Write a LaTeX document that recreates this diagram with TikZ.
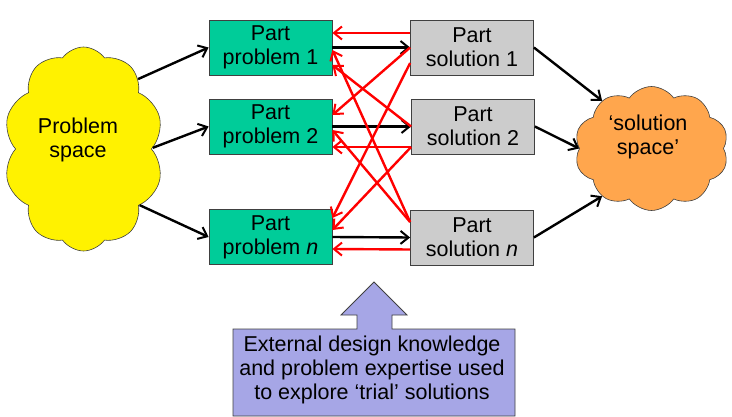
\documentclass[tikz,border=0pt]{standalone}
\usepackage{fontspec}
\setmainfont{Liberation Sans}
\usetikzlibrary{arrows.meta,shapes.symbols}

\definecolor{partgreen}{HTML}{00CC99}
\definecolor{partgrey}{HTML}{CCCCCC}
\definecolor{spaceorange}{HTML}{FFA64D}
\definecolor{knowblue}{HTML}{A6A6E6}
\definecolor{edgegrey}{HTML}{404040}

\begin{document}
\begin{tikzpicture}[x=1pt,y=-1pt,
    font=\fontsize{21.5}{24}\selectfont,
    partbox/.style={draw=edgegrey, line width=0.8pt, minimum width=123pt,
        minimum height=55pt, align=center, inner sep=0pt},
    problembox/.style={partbox, fill=partgreen},
    solutionbox/.style={partbox, fill=partgrey},
    spacecloud/.style={cloud, cloud puffs=10, cloud puff arc=110, cloud ignores aspect,
        draw=edgegrey, line width=0.6pt, inner sep=0pt},
    fwd/.style={line width=2.4pt, -{Straight Barb[length=8pt,width=13pt,line width=2pt]}},
    back/.style={fwd, red}]

\useasboundingbox (0,0) rectangle (732,417);

% clouds
\node [spacecloud, fill=yellow, minimum width=160pt, minimum height=204pt]
    (problem) at (83.5,149) {};
\node [align=center] (problemtext) at (78,140) {Problem\\space};
\node [spacecloud, fill=spaceorange, minimum width=154pt, minimum height=124pt]
    (solution) at (651.5,148.5) {};
\node [align=center] (solutiontext) at (648,137) {`solution\\space'};

% part problems and part solutions
\node [problembox] (pp1) at (270.5,47.5) {Part\\problem 1};
\node [problembox] (pp2) at (270.5,126.5) {Part\\problem 2};
\node [problembox] (ppn) at (270.5,237) {Part\\problem \textit{n}};

\node [solutionbox] (ps1) at (472,47.5) {Part\\solution 1};
\node [solutionbox] (ps2) at (473,126.5) {Part\\solution 2};
\node [solutionbox] (psn) at (472,237.5) {Part\\solution \textit{n}};

% problem space to part problems
\draw [fwd] (problem.52) -- (pp1.west);
\draw [fwd] (problem.1) -- (pp2.west);
\draw [fwd] (problem.-45) -- (ppn.west);

% part problems to part solutions
\foreach \i in {1,2,n}
    \draw [fwd] (pp\i.east) -- (ps\i.west);

% part solutions to solution space
\draw [fwd] (ps1.east) -- (solution.136);
\draw [fwd] (ps2.east) -- (solution.180);
\draw [fwd] (psn.east) -- (solution.-136);

% trial solutions fed back
\foreach \i/\d in {1/14.5,2/-20.5,n/-12}
    \draw [back] ([yshift=\d pt]ps\i.west) -- ([yshift=\d pt]pp\i.east);

\draw [back] (ps1.west) -- ([yshift=11.5pt]pp2.east);
\draw [back] ([yshift=-15.5pt]ps1.west) -- ([yshift=19pt]ppn.east);
\draw [back] (ps2.west) -- ([yshift=-17.5pt]pp1.east);
\draw [back] ([yshift=-20.5pt]ps2.west) -- ([yshift=7pt]ppn.east);
\draw [back] ([yshift=15.5pt]psn.west) -- ([yshift=-2.5pt]pp1.east);
\draw [back] ([yshift=15.5pt]psn.west) -- ([yshift=-3.5pt]pp2.east);

% external knowledge
\draw [draw=edgegrey, line width=0.8pt, fill=knowblue]
    (233,329) -- (357,329) -- (357,315) -- (341,315) -- (374,282) -- (407,315)
    -- (392,315) -- (392,329) -- (515,329) -- (515,416) -- (233,416) -- cycle;
\node [align=center, inner sep=0pt] (knowhow) at (372,370)
    {External design knowledge\\and problem expertise used\\to explore `trial' solutions};

\end{tikzpicture}
\end{document}
